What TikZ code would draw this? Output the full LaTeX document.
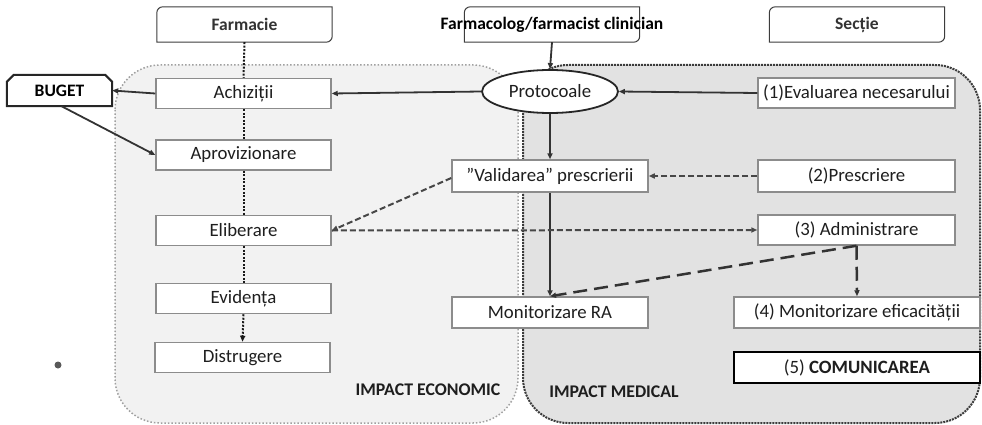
\documentclass[tikz,border=0pt]{standalone}
\usepackage{fontspec}
\setmainfont{Carlito}
\usetikzlibrary{arrows.meta,shapes.geometric,calc}

\definecolor{econbg}{HTML}{F2F2F2}
\definecolor{medbg}{HTML}{E2E2E2}
\definecolor{econline}{HTML}{A0A0A0}
\definecolor{medline}{HTML}{3C3C3C}
\definecolor{boxline}{HTML}{8C8C8C}
\definecolor{ink}{HTML}{1E1E1E}
\definecolor{wire}{HTML}{333333}

\tikzset{
  txt/.style={font=\fontsize{18.8}{21}\selectfont, text=ink},
  box/.style={txt, draw=boxline, line width=1.5pt, fill=white, inner sep=0pt,
              minimum height=30pt},
  hdr/.style={txt, inner sep=0pt, minimum width=175pt, minimum height=35pt},
  hdrtxt/.style={font=\bfseries\fontsize{17.5}{20}\selectfont, text=black!80},
  hdrline/.style={draw=medline, line width=1pt, fill=white},
  oval/.style={txt, ellipse, draw=black!85, line width=1.8pt, fill=white,
               inner sep=0pt, minimum width=136pt, minimum height=43pt},
  lab/.style={font=\bfseries\fontsize{17.8}{20}\selectfont, text=ink},
  econ/.style={fill=econbg, draw=econline, line width=1.5pt,
               dash pattern=on 1.5pt off 2pt, rounded corners=45pt},
  med/.style={fill=medbg, draw=medline, line width=2pt,
              dash pattern=on 2pt off 1pt, rounded corners=45pt},
  tip/.style={-{Triangle[length=6pt,width=5pt]}},
  solidw/.style={tip, draw=wire, line width=1.8pt},
  dotw/.style={draw=black!90, line width=2pt, dash pattern=on 2pt off 1.5pt},
  dashw/.style={tip, draw=wire!90, line width=2pt, dash pattern=on 6pt off 3pt},
  longw/.style={tip, draw=wire, line width=2.5pt, dash pattern=on 14pt off 7pt},
}

% header outline: rounded top-left and bottom-right corners
\newcommand\hdroutline[1]{%
  \draw[hdrline] (#1.south west) -- ($(#1.north west)+(0,6)$)
    arc[start angle=180,end angle=270,radius=6] -- (#1.north east)
    -- ($(#1.south east)+(0,-6)$) arc[start angle=0,end angle=90,radius=6]
    -- cycle;}

\begin{document}
\begin{tikzpicture}[x=1pt,y=-1pt]
\useasboundingbox (0,0) rectangle (982,425);

% impact areas
\draw[econ] (115,65) rectangle (518,423);
\draw[med] (523,65) rectangle (980,423);

% column headers
\node[hdr] (farm) at (244.5,24.5) {};
\hdroutline{farm}
\node[hdrtxt] at (farm) {Farmacie};
\node[hdr] (clin) at (552,24.5) {};
\hdroutline{clin}
\node[hdrtxt, text=black] at (clin) {Farmacolog/farmacist clinician};
\node[hdr] (sect) at (857,24.5) {};
\hdroutline{sect}
\node[hdrtxt] at (sect) {Secție};

% budget box with chamfered top corners
\node[inner sep=0pt, minimum width=105pt, minimum height=31pt] (buget) at (59.5,90.5) {};
\draw[draw=black!85, line width=2pt, fill=white]
  (buget.south west) -- ($(buget.north west)+(0,7)$) -- ($(buget.north west)+(7,0)$)
  -- ($(buget.north east)+(-7,0)$) -- ($(buget.north east)+(0,7)$)
  -- (buget.south east) -- cycle;
\node[font=\bfseries\fontsize{17.5}{20}\selectfont, text=black] at (buget) {BUGET};

% pharmacy column
\node[box, minimum width=175pt] (ach) at (243.5,93.5) {Achiziții};
\node[box, minimum width=175pt] (apr) at (243.5,155) {Aprovizionare};
\node[box, minimum width=175pt] (elib) at (243.5,230.5) {Eliberare};
\node[box, minimum width=175pt] (evid) at (243.5,298.5) {Evidența};
\node[box, minimum width=175pt] (dist) at (242.5,357.5) {Distrugere};

% clinical pharmacology column
\node[oval] (prot) at (550,91.5) {Protocoale};
\node[box, minimum width=196pt, minimum height=32pt] (valid) at (550,176) {”Validarea” prescrierii};
\node[box, minimum width=196pt, minimum height=31pt] (mra) at (550,312.5) {Monitorizare RA};

% ward column
\node[box, minimum width=197pt] (eval) at (856.5,93) {(1)Evaluarea necesarului};
\node[box, minimum width=197pt, minimum height=32pt] (presc) at (856.5,176) {(2)Prescriere};
\node[box, minimum width=197pt] (adm) at (856.5,230) {(3) Administrare};
\node[box, minimum width=246pt, minimum height=31pt] (efic) at (857,312.5) {(4) Monitorizare eficacității};
\node[box, draw=black, line width=2pt, minimum width=246pt, minimum height=31pt] (com) at (857,367.5) {(5) \textbf{COMUNICAREA}};

% area labels and stray bullet
\node[lab] (econlab) at (428,390) {IMPACT ECONOMIC};
\node[lab] (medlab) at (614,392) {IMPACT MEDICAL};
\node[circle, fill=black!65, inner sep=0pt, minimum size=7pt] (dot) at (58,365) {};

% pharmacy flow (dotted)
\draw[dotw] (farm.south) -- (ach.north);
\draw[dotw] (ach.south) -- (apr.north);
\draw[dotw] (apr.south) -- (elib.north);
\draw[dotw] (elib.south) -- (evid.north);
\draw[dotw, tip] (evid.south) -- (dist.north);

% solid connectors
\draw[solidw] (clin.south) -- (prot.north);
\draw[solidw] (eval.west) -- (prot.east);
\draw[solidw] (prot.west) -- (ach.east);
\draw[solidw] (ach.west) -- (buget.east);
\draw[solidw] ($(buget.south)+(2,0)$) -- (apr.west);
\draw[solidw] (prot.south) -- (valid.north);
\draw[solidw] (valid.south) -- (mra.north);

% dashed connectors
\draw[dashw] (presc.west) -- (valid.east);
\draw[dashw] ($(valid.west)+(0,2)$) -- (elib.east);
\draw[dashw] (elib.east) -- (adm.west);
\draw[longw] (adm.south) -- (mra.north);
\draw[longw] (adm.south) -- (efic.north);
\end{tikzpicture}
\end{document}
